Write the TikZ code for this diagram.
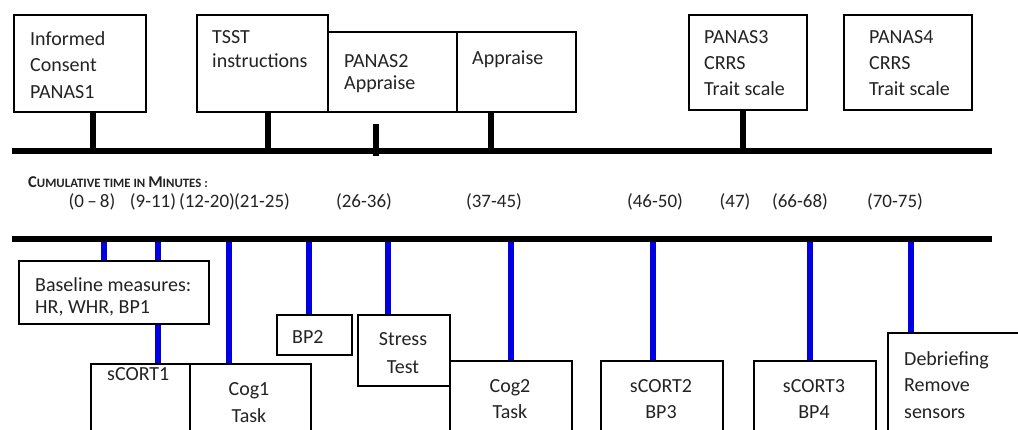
\documentclass[tikz,border=0pt]{standalone}
\usepackage{fontspec}
\setmainfont{Carlito}
\usetikzlibrary{calc}
\definecolor{stemblue}{RGB}{0,0,225}
\definecolor{ink}{RGB}{35,35,35}
\newcommand\lst{\rule{0pt}{15pt}}
\begin{document}
\begin{tikzpicture}[x=1pt,y=-1pt,
  box/.style={draw=black, line width=2pt, fill=white, inner sep=0pt, anchor=north west},
  txt/.style={inner sep=0pt, anchor=north west, align=left, text=ink, font=\fontsize{20}{#1}\selectfont},
  txt/.default=24,
  ctxt/.style={txt=#1, anchor=north, align=center},
  ctxt/.default=24,
  hline/.style={line width=5.5pt, draw=black},
  kstem/.style={line width=5.5pt, draw=black},
  bstem/.style={line width=6.5pt, draw=stemblue},
  tm/.style={inner sep=0pt, anchor=base, text=ink, font=\fontsize{19}{22}\selectfont}
]
\useasboundingbox (0,0) rectangle (1018,430);
\clip (0,0) rectangle (1018,430);

% ---------- top timeline ----------
\coordinate (LA) at (12,151);
\coordinate (LB) at (992,151);
\coordinate (s1) at (93,151);
\coordinate (s2) at (268,151);
\coordinate (s3a) at (376,124);
\coordinate (s3b) at (376,156);
\coordinate (s4) at (491,151);
\coordinate (s5) at (743,151);

\node[box, minimum width=132, minimum height=97] (inf) at (13,14) {};
\node[box, minimum width=131, minimum height=97] (tsst) at (196,14) {};
\node[box, minimum width=129, minimum height=80] (pan2) at (327,31) {};
\node[box, minimum width=119, minimum height=80] (appr) at (456,31) {};
\node[box, minimum width=118, minimum height=95] (pan3) at (688,14) {};
\node[box, minimum width=128, minimum height=95] (pan4) at (843,14) {};

\node[txt=26.5] (inf-t) at (30,30) {\lst Informed\\Consent\\PANAS1};
\node[txt=24] (tsst-t) at (212,28) {\lst TSST\\instructions};
\node[txt=22.5] (pan2-t) at (344,52) {\lst PANAS2\\Appraise};
\node[txt] (appr-t) at (472,49) {\lst Appraise};
\node[txt=26] (pan3-t) at (704,28) {\lst PANAS3\\CRRS\\Trait scale};
\node[txt=26] (pan4-t) at (869,28) {\lst PANAS4\\CRRS\\Trait scale};

\draw[kstem] (s1 |- inf.south) -- (s1);
\draw[kstem] (s2 |- tsst.south) -- (s2);
\draw[kstem] (s3a) -- (s3b);
\draw[kstem] (s4 |- appr.south) -- (s4);
\draw[kstem] (s5 |- pan3.south) -- (s5);
\draw[hline] (LA) -- (LB);

% ---------- time labels ----------
\node[anchor=base west, inner sep=0pt, text=ink, font=\bfseries] (ttl) at (28,188)
  {\fontsize{16.5}{18}\selectfont C\fontsize{12.8}{14}\selectfont UMULATIVE TIME IN \fontsize{16.5}{18}\selectfont M\fontsize{12.8}{14}\selectfont INUTES :};
\node[tm] (t1) at (92,208) {(0\,–\,8)};
\node[tm] (t2) at (153,208) {(9-11)};
\node[tm] (t3) at (207,208) {(12-20)};
\node[tm] (t4) at (262,208) {(21-25)};
\node[tm] (t5) at (364,208) {(26-36)};
\node[tm] (t6) at (494,208) {(37-45)};
\node[tm] (t7) at (655,208) {(46-50)};
\node[tm] (t8) at (735,208) {(47)};
\node[tm] (t9) at (800,208) {(66-68)};
\node[tm] (t10) at (895,208) {(70-75)};

% ---------- bottom timeline ----------
\coordinate (MA) at (12,239);
\coordinate (MB) at (992,239);
\coordinate (b1) at (104,239);
\coordinate (b2) at (158,239);
\coordinate (b3) at (229,239);
\coordinate (b4) at (309,239);
\coordinate (b5) at (388,239);
\coordinate (b6) at (511,239);
\coordinate (b7) at (653,239);
\coordinate (b8) at (810,239);
\coordinate (b9) at (911,239);

\node[box, minimum width=99, minimum height=90] (sc1) at (90,363) {};
\node[box, minimum width=121, minimum height=90] (cog1) at (189,363) {};
\node[box, minimum width=75, minimum height=40] (bp2) at (276,314) {};
\node[box, minimum width=92, minimum height=71] (st) at (357,314) {};
\node[box, minimum width=122, minimum height=90] (cog2) at (449,360) {};
\node[box, minimum width=122, minimum height=90] (sc2) at (600,360) {};
\node[box, minimum width=122, minimum height=90] (sc3) at (753,360) {};
\node[box, minimum width=160, minimum height=120] (deb) at (887,332) {};

\draw[bstem] (b1) -- (b1 |- 0,260);
\draw[bstem] (b2) -- (b2 |- sc1.north);
\draw[bstem] (b3) -- (b3 |- cog1.north);
\draw[bstem] (b4) -- (b4 |- bp2.north);
\draw[bstem] (b5) -- (b5 |- st.north);
\draw[bstem] (b6) -- (b6 |- cog2.north);
\draw[bstem] (b7) -- (b7 |- sc2.north);
\draw[bstem] (b8) -- (b8 |- sc3.north);
\draw[bstem] (b9) -- (b9 |- deb.north);

\node[box, minimum width=190, minimum height=63] (base) at (18,260) {};
\draw[hline] (MA) -- (MB);

\node[txt=22] (base-t) at (35,276) {\lst Baseline measures:\\HR, WHR, BP1};
\node[txt] (sc1-t) at (107,365) {\lst sCORT1};
\node[ctxt=27] (cog1-t) at (249,380) {\lst Cog1\\Task};
\node[txt] (bp2-t) at (292,328) {\lst BP2};
\node[ctxt=28] (st-t) at (403,330) {\lst Stress\\Test};
\node[ctxt=26] (cog2-t) at (510,377) {\lst Cog2\\Task};
\node[ctxt=26] (sc2-t) at (661,377) {\lst sCORT2\\BP3};
\node[ctxt=26] (sc3-t) at (814,377) {\lst sCORT3\\BP4};
\node[txt=26.5] (deb-t) at (904,350) {\lst Debriefing\\Remove\\sensors};
\end{tikzpicture}
\end{document}
